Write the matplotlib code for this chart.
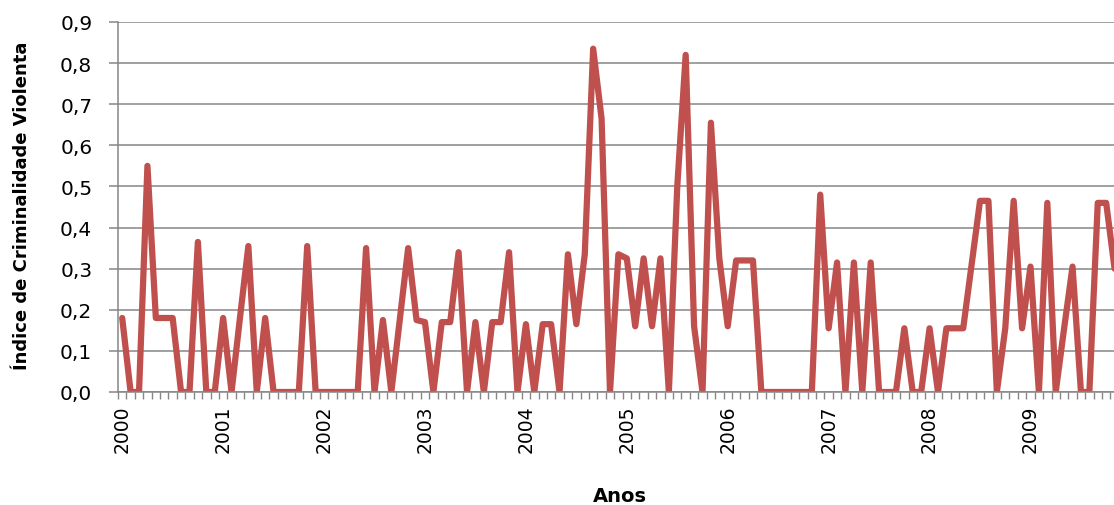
from matplotlib import pyplot as plt
from matplotlib.ticker import FixedLocator, MultipleLocator, FuncFormatter
import numpy as np

# monthly index values, starting Jan 2000
valores = [
    0.18, 0, 0, 0.55, 0.18, 0.18, 0.18, 0, 0, 0.365, 0, 0,
    0.18, 0, 0.18, 0.355, 0, 0.18, 0, 0, 0, 0, 0.355, 0,
    0, 0, 0, 0, 0, 0.35, 0, 0.175, 0, 0.175, 0.35, 0.175,
    0.17, 0, 0.17, 0.17, 0.34, 0, 0.17, 0, 0.17, 0.17, 0.34, 0,
    0.165, 0, 0.165, 0.165, 0, 0.335, 0.165, 0.335, 0.835, 0.665, 0, 0.335,
    0.325, 0.16, 0.325, 0.16, 0.325, 0, 0.5, 0.82, 0.16, 0, 0.655, 0.325,
    0.16, 0.32, 0.32, 0.32, 0, 0, 0, 0, 0, 0, 0, 0.48,
    0.155, 0.315, 0, 0.315, 0, 0.315, 0, 0, 0, 0.155, 0, 0,
    0.155, 0, 0.155, 0.155, 0.155, 0.31, 0.465, 0.465, 0, 0.155, 0.465, 0.155,
    0.305, 0, 0.46, 0, 0.155, 0.305, 0, 0, 0.46, 0.46, 0.30,
]
anos = ["2000", "2001", "2002", "2003", "2004",
        "2005", "2006", "2007", "2008", "2009"]

cor_linha = "#C0504D"
cor_grade = "#868686"

fig = plt.figure(figsize=(11.14, 5.06), dpi=100)
ax = fig.add_axes([118/1114, 1 - 393/506, 1 - 118/1114, (393 - 23)/506])

x = np.arange(len(valores))
ax.plot(x, valores, color=cor_linha, lw=4.5, solid_joinstyle="round", solid_capstyle="round")

ax.set_ylim(0, 0.9)
ax.set_xlim(-0.5, 117.93)

ax.yaxis.set_major_locator(MultipleLocator(0.1))
ax.yaxis.set_major_formatter(FuncFormatter(lambda v, p: f"{v:.1f}".replace(".", ",")))
ax.grid(axis="y", color=cor_grade, lw=1.1)
ax.set_axisbelow(True)

ax.xaxis.set_major_locator(FixedLocator([12*k for k in range(len(anos))]))
ax.set_xticklabels(anos, rotation=90, fontsize=13.5)
ax.xaxis.set_minor_locator(FixedLocator(np.arange(-0.5, 119, 1)))
ax.tick_params(axis="x", which="major", length=0, pad=9)
ax.tick_params(axis="x", which="minor", length=5, width=1, color=cor_grade)
ax.tick_params(axis="y", length=6.5, width=1.1, color=cor_grade, labelsize=14.5, pad=12)

for s in ["top", "right"]:
    ax.spines[s].set_visible(False)
ax.spines["left"].set_color(cor_grade)
ax.spines["bottom"].set_color(cor_grade)
ax.spines["left"].set_linewidth(1.1)
ax.spines["bottom"].set_linewidth(1.1)

fig.text(22/1114, 1 - 206/506, "Índice de Criminalidade Violenta", rotation=90,
         ha="center", va="center", fontsize=13, fontweight="bold")
fig.text(620/1114, 1 - 497/506, "Anos", ha="center", va="center",
         fontsize=14, fontweight="bold")

fig.savefig("out.png", dpi=100)
